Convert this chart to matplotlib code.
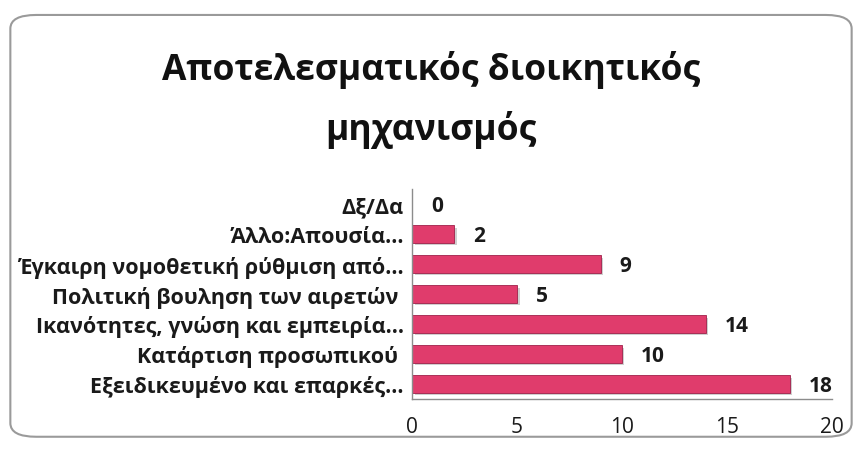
import matplotlib
matplotlib.use("Agg")
import matplotlib.pyplot as plt
from matplotlib.patches import FancyBboxPatch
import numpy as np

plt.rcParams["font.family"] = ["Open Sans", "DejaVu Sans"]

# chart data (bottom to top)
CATEGORIES = [
    "Εξειδικευμένο και επαρκές...",
    "Κατάρτιση προσωπικού ",
    "Ικανότητες, γνώση και εμπειρία...",
    "Πολιτική βουληση των αιρετών ",
    "Έγκαιρη νομοθετική ρύθμιση από...",
    "Άλλο:Απουσία...",
    "Δξ/Δα",
]
VALUES = [18, 10, 14, 5, 9, 2, 0]
X_TICKS = [0, 5, 10, 15, 20]
TITLE = "Αποτελεσματικός διοικητικός\nμηχανισμός"

BAR_COLOR = "#e03c6c"


def main():
    fig = plt.figure(figsize=(8.62, 4.56), dpi=100)

    # rounded frame around the chart
    frame = FancyBboxPatch(
        (0.012, 0.04), 0.976, 0.925,
        boxstyle="round,pad=0,rounding_size=0.03",
        transform=fig.transFigure, facecolor="white",
        edgecolor="#9a9a9a", linewidth=1.5, zorder=-10,
    )
    fig.patches.append(frame)

    ax = fig.add_axes([0.478, 0.123, 0.487, 0.46])
    ax.set_facecolor("none")

    y = np.arange(len(CATEGORIES))
    # soft shadow under each bar
    ax.barh(y - 0.09, VALUES, height=0.58, left=0.12, color="#b0b0b0", alpha=0.6, zorder=1)
    ax.barh(y, VALUES, height=0.58, color=BAR_COLOR, edgecolor="#a0204a", linewidth=0.6, zorder=2)

    for yi, v in zip(y, VALUES):
        ax.text(v + 0.9, yi - 0.05, str(v), va="center", ha="left",
                fontsize=15, fontweight="bold", color="#1a1a1a")

    ax.set_xlim(0, 20)
    ax.set_ylim(-0.5, len(CATEGORIES) - 0.5)
    ax.set_xticks(X_TICKS)
    ax.set_yticks(y)
    ax.set_yticklabels(CATEGORIES, fontsize=15.5, fontweight="bold", color="#1a1a1a")
    ax.tick_params(axis="both", length=0)
    ax.tick_params(axis="x", labelsize=15, pad=12, colors="#1a1a1a")
    ax.tick_params(axis="y", pad=6)

    for side in ["top", "right"]:
        ax.spines[side].set_visible(False)
    for side in ["left", "bottom"]:
        ax.spines[side].set_color("#8c8c8c")
        ax.spines[side].set_linewidth(1)

    fig.text(0.5, 0.78, TITLE, ha="center", va="center", fontsize=25.5,
             fontweight="bold", color="#111111", linespacing=1.75)

    fig.savefig("out.png", dpi=100)


if __name__ == "__main__":
    main()
